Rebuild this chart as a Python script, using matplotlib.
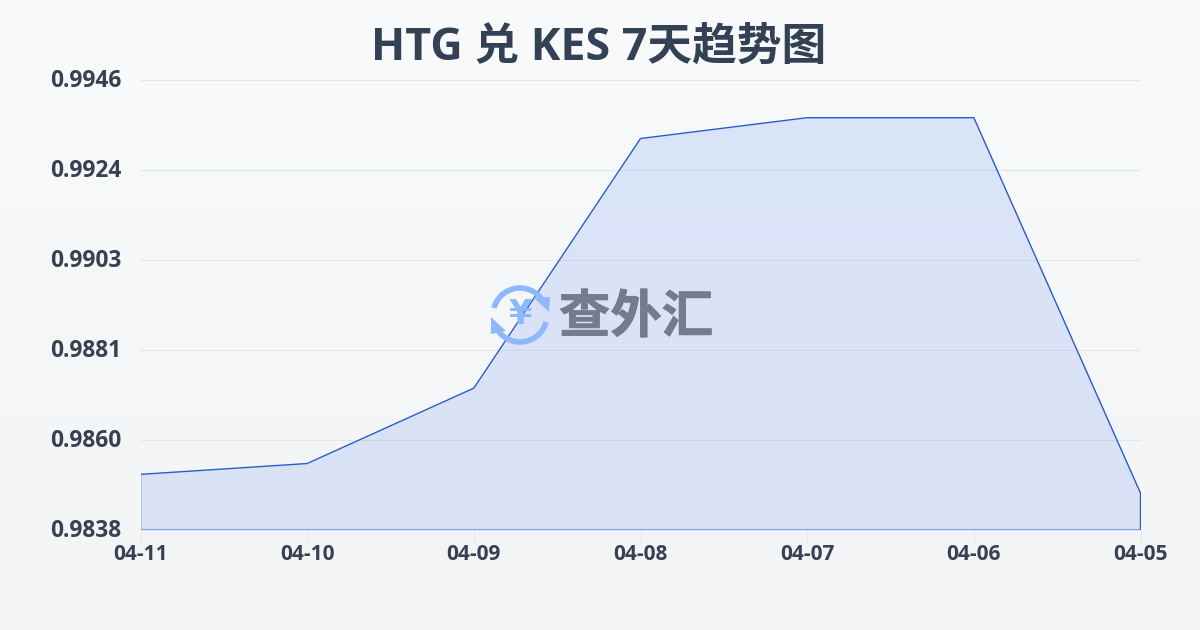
import numpy as np
import matplotlib
matplotlib.use("Agg")
import matplotlib.pyplot as plt
import matplotlib.patheffects as pe
from matplotlib.patches import Arc, Polygon
from matplotlib.transforms import ScaledTranslation

plt.rcParams['font.family'] = ['Open Sans', 'Noto Sans CJK SC', 'DejaVu Sans']

dates = ["04-11", "04-10", "04-09", "04-08", "04-07", "04-06", "04-05"]
rates = [0.98514, 0.98540, 0.98721, 0.99320, 0.99370, 0.99370, 0.98469]
y_ticks = [0.9838, 0.98596, 0.98812, 0.99028, 0.99244, 0.9946]
y_labels = ["0.9838", "0.9860", "0.9881", "0.9903", "0.9924", "0.9946"]
title = "HTG 兑 KES 7天趋势图"

W, H = 1200, 630
fig = plt.figure(figsize=(W / 100, H / 100), dpi=100)

# background gradient
bg = fig.add_axes([0, 0, 1, 1], zorder=0)
grad = np.linspace(0, 1, 256).reshape(-1, 1)
cmap = matplotlib.colors.LinearSegmentedColormap.from_list("bg", ["#f8fafb", "#f3f4f6"])
bg.imshow(grad, aspect="auto", cmap=cmap, extent=[0, W, H, 0])
bg.axis("off")

ax = fig.add_axes([140.5 / W, 1 - 530.2 / H, 1000 / W, 450 / H], zorder=1)
ax.patch.set_alpha(0)
x = np.arange(len(dates))
ax.fill_between(x, rates, y_ticks[0], color="#2563eb", alpha=0.13, linewidth=0, zorder=2)
ax.plot(list(x) + [x[-1], x[0], x[0]], rates + [y_ticks[0], y_ticks[0], rates[0]],
        color="#2a5cc8", lw=1.0, zorder=4)

ax.set_xlim(0, len(dates) - 1)
ax.set_ylim(y_ticks[0], y_ticks[-1])
ax.set_xticks(x)
ax.set_xticklabels(dates, fontsize=15, fontweight="bold", color="#374151")
ax.set_yticks(y_ticks)
ax.set_yticklabels(y_labels, fontsize=16.4, fontweight="bold", color="#374151")
ax.grid(axis="y", color="#e3e6ea", lw=0.8)
ax.set_axisbelow(True)
ax.tick_params(axis="x", length=9, width=0.6, color="#e6e6e0", pad=1)
ax.tick_params(axis="y", length=0, pad=14)
# y labels sit a little above their gridlines (has to come after tick_params)
up = ScaledTranslation(0, 2 / 100, fig.dpi_scale_trans)
for lab in ax.get_yticklabels():
    lab.set_transform(lab.get_transform() + up)
for s in ax.spines.values():
    s.set_visible(False)

fig.text(599 / W, 1 - 48 / H, title, ha="center", va="center", fontsize=32.2,
         fontweight="bold", color="#334155", zorder=5)

# watermark, in pixel coordinates
wm = fig.add_axes([0, 0, 1, 1], zorder=3)
wm.set_xlim(0, W)
wm.set_ylim(H, 0)
wm.axis("off")
blue = "#8db8fb"
wm.add_patch(Arc((520, 315), 54, 54, theta1=195, theta2=325, color=blue, lw=4))
wm.add_patch(Arc((520, 315), 54, 54, theta1=15, theta2=145, color=blue, lw=4))
wm.add_patch(Polygon([[534, 298], [550, 297], [549, 312]], color=blue, lw=0))
wm.add_patch(Polygon([[491, 317], [506, 331], [491, 334]], color=blue, lw=0))
wm.text(520, 315, "¥", ha="center", va="center", fontsize=24, fontweight="bold", color=blue,
        family=['DejaVu Sans'])
wm.text(636, 317, "查外汇", ha="center", va="center", fontsize=37, fontweight=900,
        color="#737b8c", family=['Noto Sans CJK SC'],
        path_effects=[pe.withStroke(linewidth=0.6, foreground="#737b8c")])

fig.savefig("out.png", dpi=100)
